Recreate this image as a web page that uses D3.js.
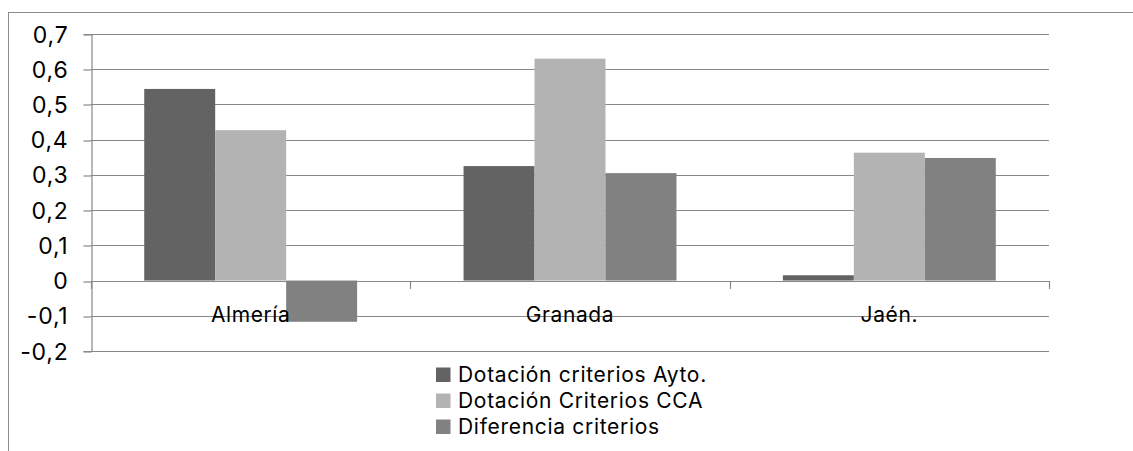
<!DOCTYPE html>
<html>
<head>
<meta charset="utf-8">
<script src="https://cdn.jsdelivr.net/npm/d3@7"></script>
<style>
  html, body { margin: 0; padding: 0; background: #fff; }
  svg { display: block; }
  text { font-family: Inter, "Open Sans", sans-serif; fill: #000; }
</style>
</head>
<body>
<svg id="chart" width="1133" height="451"></svg>
<script>
const categories = ["Almería", "Granada", "Jaén."];
const seriesNames = ["Dotación criterios Ayto.", "Dotación Criterios CCA", "Diferencia criterios"];
const ayto = [0.544, 0.325, 0.015];
const cca = [0.427, 0.630, 0.363];
const diferencia = [-0.117, 0.305, 0.348];
const yTicks = [-0.2, -0.1, 0, 0.1, 0.2, 0.3, 0.4, 0.5, 0.6, 0.7];
const colors = ["#636363", "#b3b3b3", "#818181"];

const seriesValues = [ayto, cca, diferencia];
const svg = d3.select("#chart");
const fontSize = 21;
const gridColor = "#888888";

const plot = { left: 91, right: 1049, top: 34, bottom: 351 };

const y = d3.scaleLinear().domain([-0.2, 0.7]).range([plot.bottom, plot.top]);
const x0 = d3.scaleBand().domain(categories).range([plot.left, plot.right]).paddingInner(0).paddingOuter(0);
const x1 = d3.scaleBand().domain(seriesNames).range([0, x0.bandwidth()]).paddingInner(0).paddingOuter(0.75);

const fmt = d => (Math.abs(d) < 1e-9 ? "0" : d3.format(".1f")(d).replace(".", ",").replace("−", "-"));

// outer frame (cropped on right/bottom)
svg.append("rect")
  .attr("x", 8.5).attr("y", 12.5)
  .attr("width", 1300).attr("height", 600)
  .attr("fill", "none").attr("stroke", "#8a8a8a").attr("stroke-width", 1);

// gridlines
svg.append("g")
  .selectAll("line")
  .data(yTicks)
  .join("line")
  .attr("x1", plot.left).attr("x2", plot.right)
  .attr("y1", d => Math.round(y(d)) + 0.5).attr("y2", d => Math.round(y(d)) + 0.5)
  .attr("stroke", gridColor).attr("stroke-width", 1.2);

// y axis
const yAxis = d3.axisLeft(y).tickValues(yTicks).tickFormat(fmt).tickSize(8).tickPadding(15);
const gy = svg.append("g").attr("transform", `translate(${plot.left + 0.5},0)`).call(yAxis);
gy.select(".domain").attr("stroke", gridColor).attr("stroke-width", 1.2);
gy.selectAll(".tick line").attr("stroke", gridColor).attr("stroke-width", 1.2)
  .attr("transform", function(d){ const yy = y(d); return `translate(0,${Math.round(yy)+0.5-yy})`; });
gy.selectAll(".tick text").attr("font-size", 23).attr("letter-spacing", "0.8px")
  .attr("font-family", "Inter, 'Open Sans', sans-serif").attr("fill", "#000").attr("dy", "0.35em");

// bars
const groups = svg.append("g")
  .selectAll("g")
  .data(categories)
  .join("g")
  .attr("transform", d => `translate(${x0(d)},0)`);

groups.selectAll("rect")
  .data((c, ci) => seriesNames.map((s, si) => ({ s, si, v: seriesValues[si][ci] })))
  .join("rect")
  .attr("x", d => x1(d.s))
  .attr("width", x1.bandwidth())
  .attr("y", d => y(Math.max(0, d.v)))
  .attr("height", d => Math.abs(y(d.v) - y(0)))
  .attr("fill", d => colors[d.si]);

// zero-line category ticks
svg.append("g")
  .selectAll("line")
  .data(categories.map(c => x0(c)).concat([plot.right]))
  .join("line")
  .attr("x1", d => Math.round(d) + 0.5).attr("x2", d => Math.round(d) + 0.5)
  .attr("y1", Math.round(y(0))).attr("y2", Math.round(y(0)) + 8)
  .attr("stroke", gridColor).attr("stroke-width", 1.2);

// category labels
svg.append("g")
  .selectAll("text")
  .data(categories)
  .join("text")
  .attr("x", d => x0(d) + x0.bandwidth() / 2)
  .attr("y", y(-0.1) + 6)
  .attr("text-anchor", "middle")
  .attr("font-size", fontSize)
  .attr("letter-spacing", "0.6px")
  .text(d => d);

// legend
const legendX = 436, legendY = 375, rowH = 26;
const legend = svg.append("g")
  .selectAll("g")
  .data(seriesNames)
  .join("g")
  .attr("transform", (d, i) => `translate(${legendX},${legendY + i * rowH})`);
legend.append("rect")
  .attr("x", 0).attr("y", -7.5).attr("width", 14.5).attr("height", 14.5)
  .attr("fill", (d, i) => colors[i]);
legend.append("text")
  .attr("x", 22).attr("y", 0).attr("dy", "0.35em")
  .attr("font-size", fontSize)
  .attr("letter-spacing", "0.7px")
  .text(d => d);
</script>
</body>
</html>
